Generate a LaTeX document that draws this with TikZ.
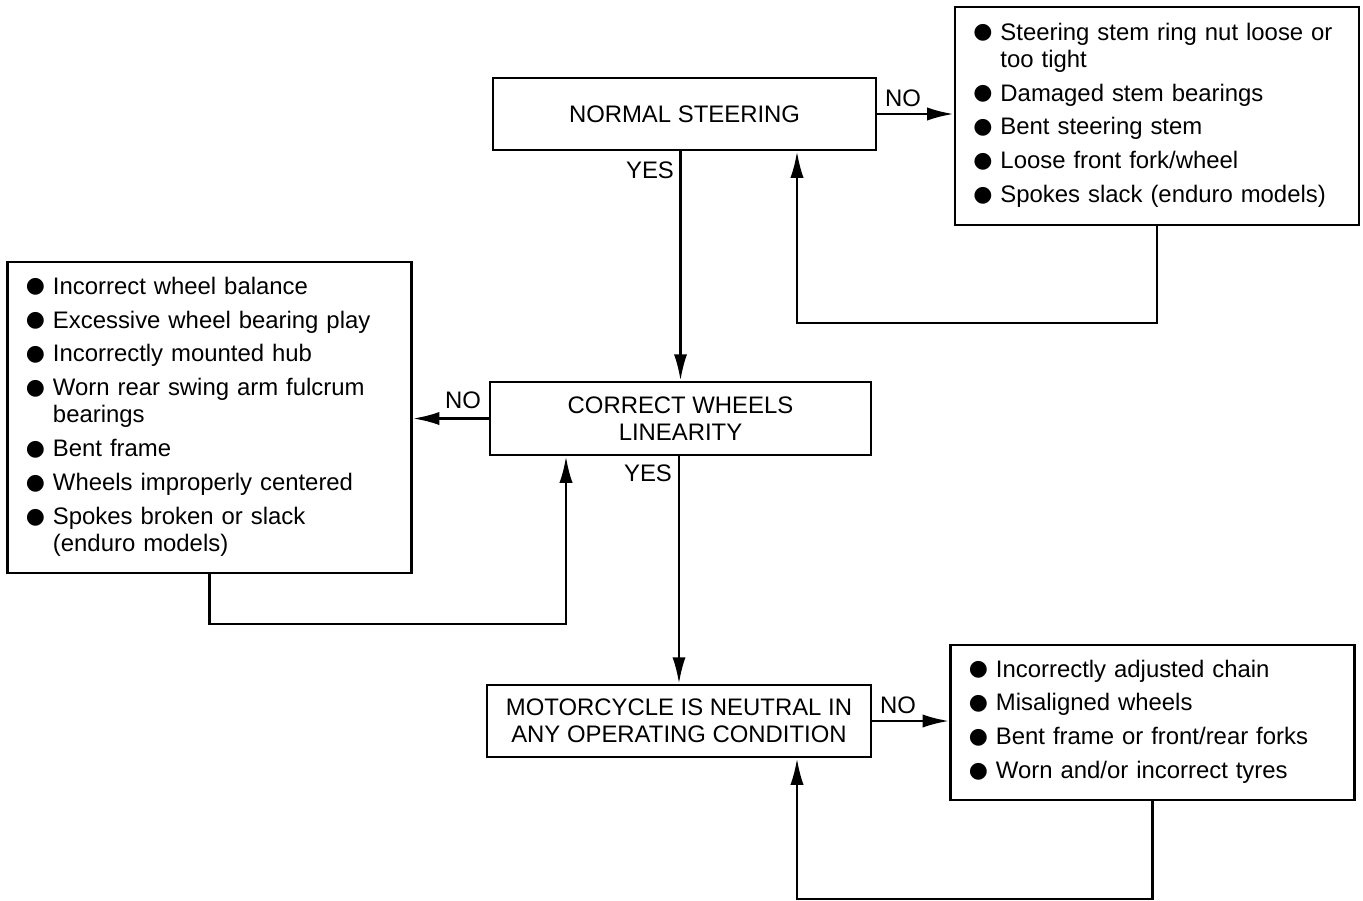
\documentclass[tikz,border=0pt]{standalone}
\usepackage{fontspec}
\setmainfont{Liberation Sans}
\newfontfamily\dotfont{DejaVu Sans}
\usetikzlibrary{arrows.meta}

\newcommand{\bul}{\raisebox{0.8pt}{\dotfont\fontsize{12.5}{12.5}\selectfont ●}}

\begin{document}
\begin{tikzpicture}[x=0.02cm, y=-0.02cm, line width=1.4pt,
    >={Latex[length=15pt,width=7.5pt]},
    font=\fontsize{13.6}{15.4}\selectfont,
    question/.style={draw, line width=1.6pt, align=center, inner sep=0pt},
    causes/.style={draw, line width=1.6pt, align=left, inner xsep=10.5pt,
        inner ysep=0pt, text width=209pt}]

    \useasboundingbox (0,0) rectangle (1363,900);

    % ==========================================
    % 1. Domande (colonna centrale)
    % ==========================================
    \node[question, minimum width=7.66cm, minimum height=1.44cm] (steer) at (684.5,114) {NORMAL STEERING};
    \node[question, minimum width=7.62cm, minimum height=1.46cm] (wheels) at (680.5,418.5) {CORRECT WHEELS\\LINEARITY};
    \node[question, minimum width=7.68cm, minimum height=1.44cm] (neutral) at (679,721) {MOTORCYCLE IS NEUTRAL IN\\ANY OPERATING CONDITION};

    % ==========================================
    % 2. Riquadri delle cause
    % ==========================================
    \node[causes, minimum height=4.36cm] (causeA) at (1157,116) {%
        \begin{tabular}{@{}l@{\hspace{4.5pt}}l@{}}
        \bul & Steering stem ring nut loose or\\
             & too tight\\[3.9pt]
        \bul & Damaged stem bearings\\[3.9pt]
        \bul & Bent steering stem\\[3.9pt]
        \bul & Loose front fork/wheel\\[3.9pt]
        \bul & Spokes slack (enduro models)
        \end{tabular}};
    \node[causes, minimum height=6.22cm] (causeB) at (209.5,417.5) {%
        \begin{tabular}{@{}l@{\hspace{4.5pt}}l@{}}
        \bul & Incorrect wheel balance\\[3.9pt]
        \bul & Excessive wheel bearing play\\[3.9pt]
        \bul & Incorrectly mounted hub\\[3.9pt]
        \bul & Worn rear swing arm fulcrum\\
             & bearings\\[3.9pt]
        \bul & Bent frame\\[3.9pt]
        \bul & Wheels improperly centered\\[3.9pt]
        \bul & Spokes broken or slack\\
             & (enduro models)
        \end{tabular}};
    \node[causes, minimum height=3.10cm] (causeC) at (1152.5,722.5) {%
        \begin{tabular}{@{}l@{\hspace{4.5pt}}l@{}}
        \bul & Incorrectly adjusted chain\\[3.9pt]
        \bul & Misaligned wheels\\[3.9pt]
        \bul & Bent frame or front/rear forks\\[3.9pt]
        \bul & Worn and/or incorrect tyres
        \end{tabular}};

    % ==========================================
    % 3. Collegamenti SI / NO
    % ==========================================
    \coordinate (fbA) at (797,323);
    \coordinate (fbB) at (566,624);
    \coordinate (fbC) at (797,899);

    \draw[->] (steer.east) -- (steer.east -| causeA.west);
    \draw[->] (wheels.north |- steer.south) -- (wheels.north);
    \draw[->] (causeA.south) |- (fbA) -- (fbA |- steer.south);

    \draw[->] (wheels.west) -- (wheels.west -| causeB.east);
    \draw[->] (causeB.south) |- (fbB) -- (fbB |- wheels.south);
    \draw[->] (neutral.north |- wheels.south) -- (neutral.north);

    \draw[->] (neutral.east) -- (neutral.east -| causeC.west);
    \draw[->] (causeC.south) |- (fbC) -- (fbC |- neutral.south);

    % etichette
    \node (noA) at (903,98) {NO};
    \node (yesA) at (650,170) {YES};
    \node (noB) at (463,400) {NO};
    \node (yesB) at (648,473) {YES};
    \node (noC) at (898,705) {NO};

\end{tikzpicture}
\end{document}
